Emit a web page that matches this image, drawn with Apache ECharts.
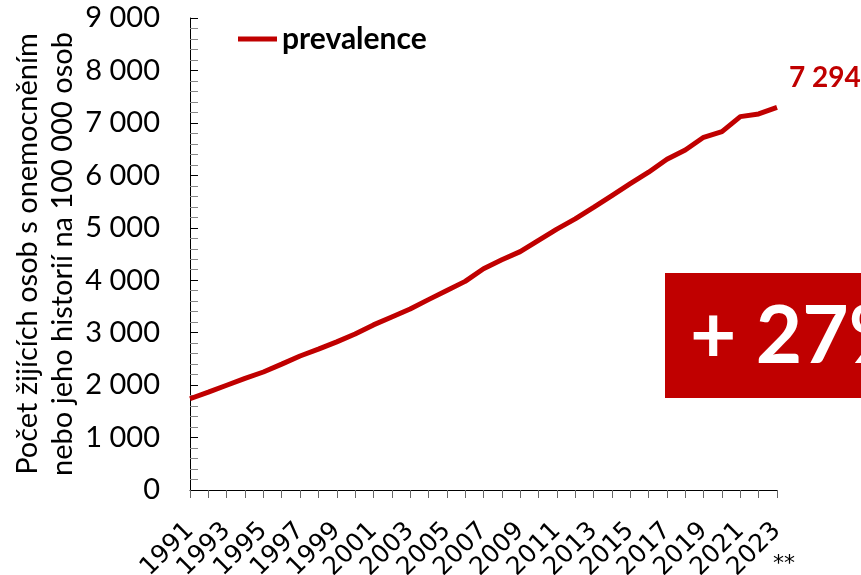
<!DOCTYPE html>
<html><head><meta charset="utf-8">
<script src="https://cdn.jsdelivr.net/npm/echarts@6/dist/echarts.min.js"></script>
<style>html,body{margin:0;padding:0;background:#fff}#c{width:861px;height:575px}</style>
</head><body><div id="c"></div>
<script>
const years = ['1991','1992','1993','1994','1995','1996','1997','1998','1999','2000','2001','2002','2003','2004','2005','2006','2007','2008','2009','2010','2011','2012','2013','2014','2015','2016','2017','2018','2019','2020','2021','2022','2023'];
const prevalence = [1740,1865,1998,2130,2250,2400,2555,2685,2825,2975,3148,3300,3452,3630,3805,3978,4220,4390,4545,4760,4975,5170,5390,5615,5840,6060,6306,6484,6725,6833,7119,7170,7294];
const seriesName = 'prevalence';
const yAxisTitle = 'Počet žijících osob s onemocněním\nnebo jeho historií na 100 000 osob';
const changeText = '+ 27%';
const footnote = '**';

const fmt = v => String(v).replace(/\B(?=(\d{3})+(?!\d))/g, ' ');
const RED = '#C00000';
const FONT = 'Lato';

const chart = echarts.init(document.getElementById('c'), null, {renderer: 'canvas'});
chart.setOption({
  animation: false,
  grid: { left: 190, right: 84, top: 18, bottom: 85, containLabel: false, outerBoundsMode: 'none' },
  legend: {
    data: [seriesName], left: 238, top: 24, padding: 0, icon: 'rect', itemWidth: 39, itemHeight: 5, itemGap: 10,
    textStyle: { fontSize: 30, fontWeight: 'bold', fontFamily: FONT, color: '#000' }
  },
  xAxis: {
    type: 'category', data: years, boundaryGap: false,
    axisLine: { lineStyle: { color: '#000', width: 1 } },
    axisTick: { show: true, interval: 0, length: 8, lineStyle: { color: '#666' } },
    axisLabel: { interval: 1, rotate: 45, fontSize: 25, fontFamily: 'DejaVu Sans', color: '#000', margin: 37 }
  },
  yAxis: {
    type: 'value', min: 0, max: 9000, interval: 1000,
    name: yAxisTitle, nameLocation: 'middle', nameRotate: 90, nameGap: 110, nameMoveOverlap: false,
    nameTextStyle: { fontSize: 29, fontFamily: FONT, color: '#000', lineHeight: 35 },
    axisLine: { show: true, lineStyle: { color: '#000', width: 1 } },
    axisTick: { show: true, inside: true, length: 8, lineStyle: { color: '#000' } },
    minorTick: { show: true, splitNumber: 5, length: 8, lineStyle: { color: '#888' } },
    splitLine: { show: false },
    axisLabel: { formatter: fmt, fontSize: 29, fontFamily: FONT, color: '#000', margin: 30 }
  },
  series: [{
    name: seriesName, type: 'line', data: prevalence, showSymbol: false, symbol: 'none',
    lineStyle: { color: RED, width: 5 }, itemStyle: { color: RED },
    endLabel: { show: true, offset: [4, -30], formatter: p => fmt(p.value),
      color: RED, fontWeight: 'bold', fontSize: 28, fontFamily: FONT }
  }],
  graphic: [
    { type: 'rect', left: 665, top: 273, shape: { width: 230, height: 125 }, style: { fill: RED } },
    { type: 'text', left: 690, top: 297, style: { text: changeText, fill: '#fff', fontSize: 80, fontWeight: 'bold', fontFamily: FONT } },
    { type: 'text', left: 773, top: 553, style: { text: footnote, fill: '#000', fontSize: 22, fontFamily: 'DejaVu Sans' } }
  ]
});
</script></body></html>
